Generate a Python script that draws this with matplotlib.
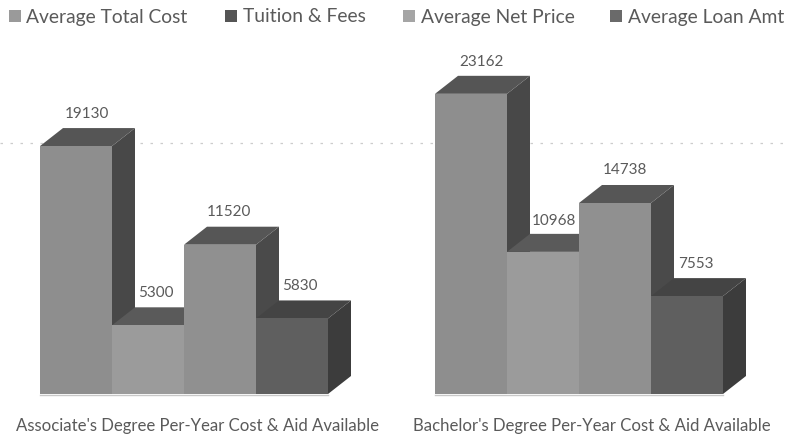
import matplotlib
matplotlib.use("Agg")
import matplotlib.pyplot as plt
from matplotlib.patches import Polygon, Rectangle

plt.rcParams['font.family'] = ['Lato', 'DejaVu Sans']

series = ["Average Total Cost", "Tuition & Fees", "Average Net Price", "Average Loan Amt"]
groups = ["Associate's Degree Per-Year Cost & Aid Available", "Bachelor's Degree Per-Year Cost & Aid Available"]
associate = [19130, 5300, 11520, 5830]
bachelor = [23162, 10968, 14738, 7553]

front_colors = ["#8e8e8e", "#9b9b9b", "#909090", "#5f5f5f"]
top_colors = ["#555555", "#5a5a5a", "#565656", "#444444"]
side_colors = ["#484848", "#4e4e4e", "#4a4a4a", "#3c3c3c"]
text_color = "#5a5a5a"

px_per_unit = 0.01296  # px per dollar
bar_px = 72.0
depth_x = 23 / bar_px
depth_y = 18 / px_per_unit

fig = plt.figure(figsize=(7.9, 4.34), dpi=100)
ax = fig.add_axes([0, 0, 1, 1])
ax.set_xlim(-40 / bar_px, 750 / bar_px)
ax.set_ylim(-40 / px_per_unit, 394 / px_per_unit)
ax.axis("off")


def px(x_px, y_px):
    # picture pixels to data coordinates
    return (x_px - 40) / bar_px, (394 - y_px) / px_per_unit


# faint dotted gridline behind the bars
gx0, gy = px(0, 143)
gx1, _ = px(790, 143)
ax.plot([gx0, gx1], [gy, gy], color="#cccccc", lw=0.9, ls=(0, (2, 6)), zorder=0)


def draw_group(start, values, label_dx, label_dy):
    # floor line
    fx, fy = px(0, 395)
    ax.plot([start, start + len(values)], [fy, fy], color="#c8c8c8", lw=1, zorder=1)
    for i, v in enumerate(values):
        x0 = start + i
        x1 = x0 + 1
        z = 2 + i
        side = [(x1, 0), (x1 + depth_x, depth_y), (x1 + depth_x, v + depth_y), (x1, v)]
        top = [(x0, v), (x1, v), (x1 + depth_x, v + depth_y), (x0 + depth_x, v + depth_y)]
        ax.add_patch(Polygon(side, color=side_colors[i], lw=0, zorder=z))
        ax.add_patch(Polygon(top, color=top_colors[i], lw=0, zorder=z))
        ax.bar(x0 + 0.5, v, width=1, color=front_colors[i], zorder=z)
        ax.annotate(str(v), (x0 + 0.5, v), xytext=(label_dx[i], label_dy[i]), textcoords="offset pixels",
                    ha="center", va="center", fontsize=11, color=text_color, zorder=10)


draw_group(0, associate, [11, 8, 9, 8], [32, 32, 33, 32])
draw_group((435 - 40) / bar_px, bachelor, [10, 11, 10, 9], [32, 31, 33, 32])

for name, cx in zip(groups, [197, 592]):
    tx, ty = px(cx, 425.5)
    ax.text(tx, ty, name, ha="center", va="center", fontsize=12.1, color=text_color)

# legend drawn by hand, the spacing in the picture is uneven
swatch_x = [9, 225, 403, 610]
text_x = [26, 243, 421, 628]
swatch_colors = ["#9a9a9a", "#555555", "#a5a5a5", "#6a6a6a"]
for name, sx, tx_px, c in zip(series, swatch_x, text_x, swatch_colors):
    x, y = px(sx, 22)
    ax.add_patch(Rectangle((x, y), 12 / bar_px, 12 / px_per_unit, color=c, lw=0))
    tx, ty = px(tx_px, 17)
    ax.text(tx, ty, name, ha="left", va="center", fontsize=13.9, color=text_color)

fig.savefig("out.png", dpi=100)
